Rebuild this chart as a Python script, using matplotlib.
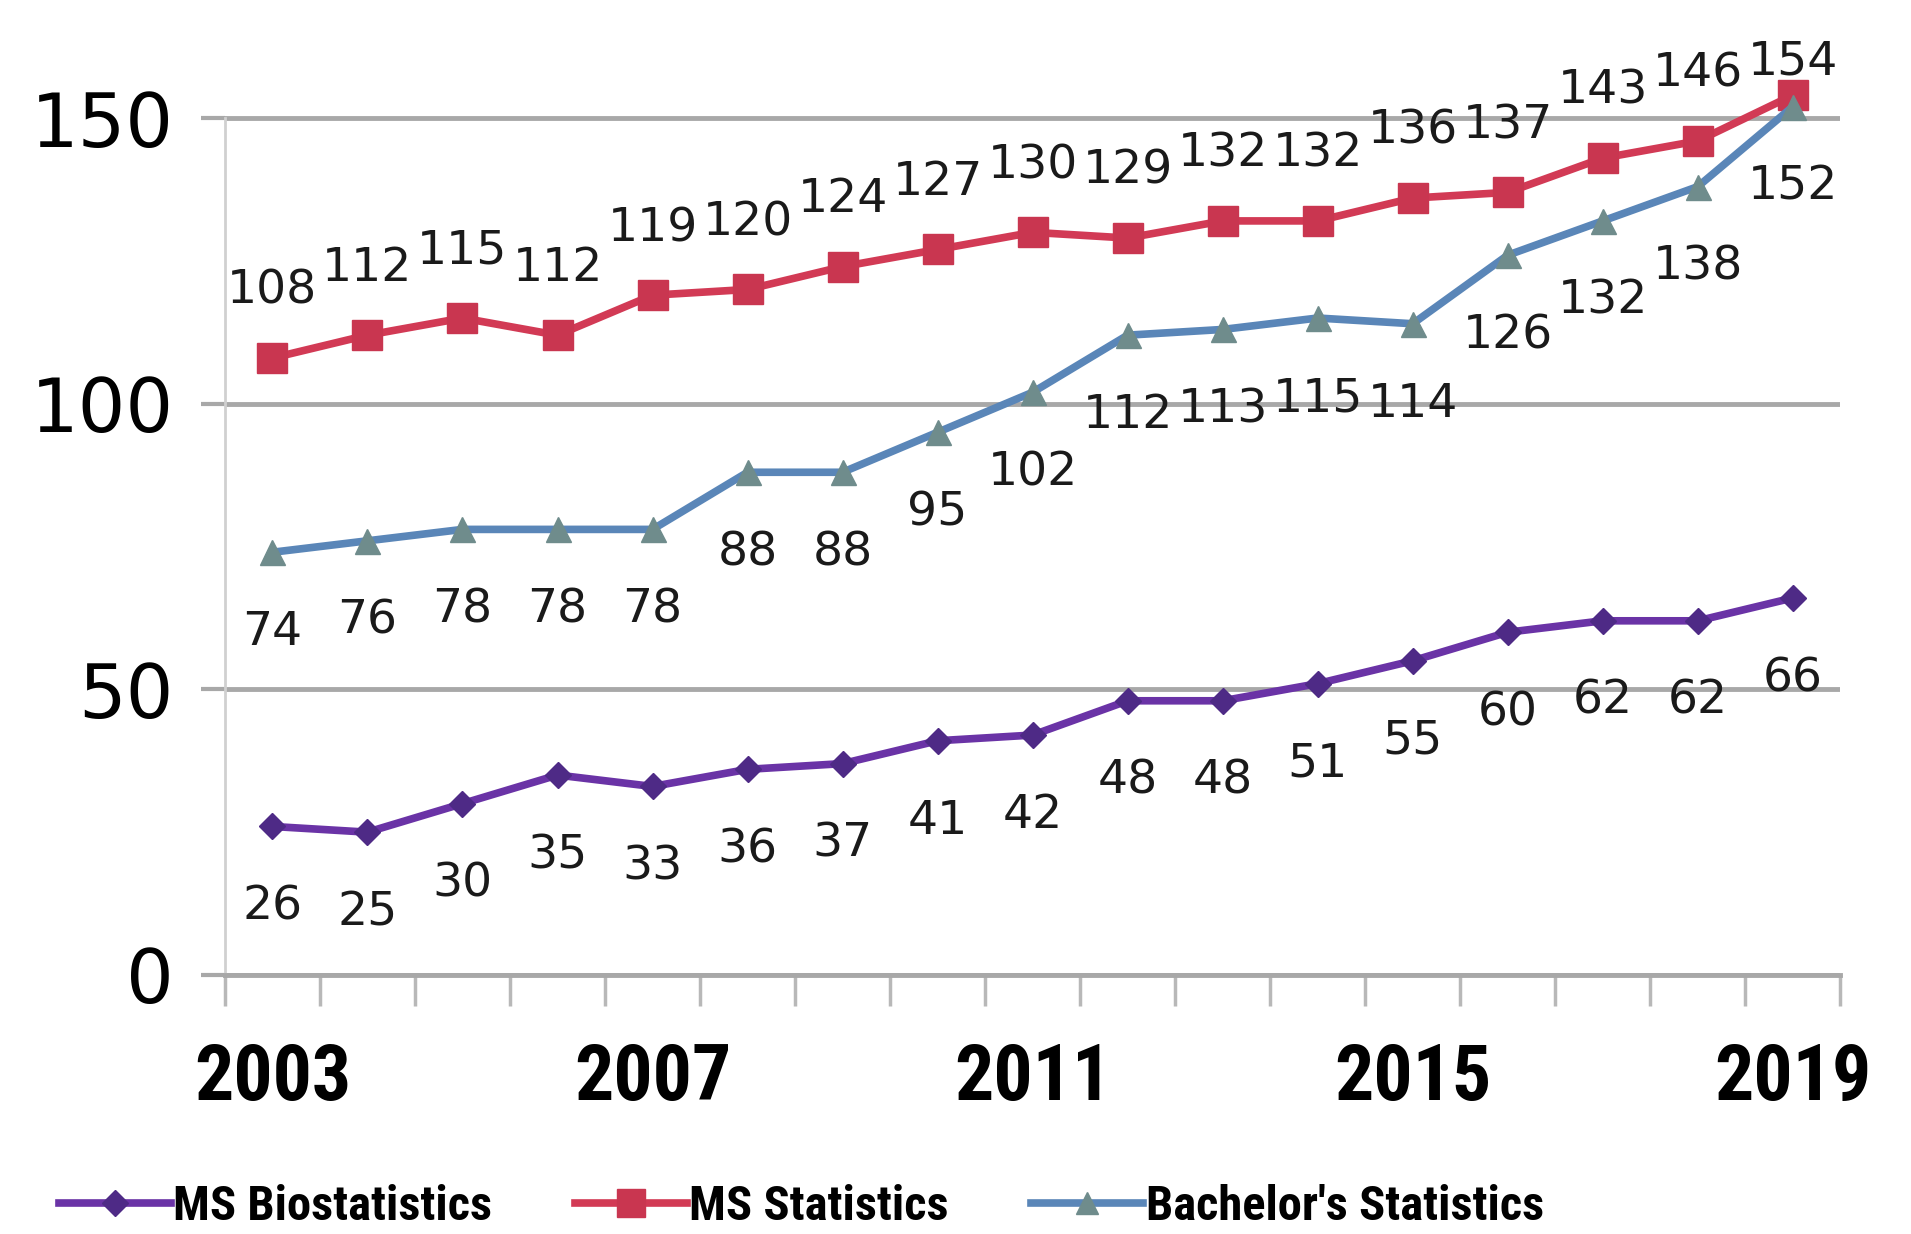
import matplotlib.pyplot as plt
import numpy as np
from matplotlib.lines import Line2D

# данные
years = list(range(2003, 2020))
ms_bio = [26, 25, 30, 35, 33, 36, 37, 41, 42, 48, 48, 51, 55, 60, 62, 62, 66]
ms_stat = [108, 112, 115, 112, 119, 120, 124, 127, 130, 129, 132, 132, 136, 137, 143, 146, 154]
bach_stat = [74, 76, 78, 78, 78, 88, 88, 95, 102, 112, 113, 115, 114, 126, 132, 138, 152]
year_labels = ["2003", "2007", "2011", "2015", "2019"]

c_bio = "#6a33a6"
c_stat = "#d23a55"
c_bach = "#5a86b8"
grid_c = "#a8a8a8"

narrow = ["Roboto Condensed", "DejaVu Sans"]

fig = plt.figure(figsize=(19.11, 12.34), dpi=100)
ax = fig.add_axes([0.1177, 0.2099, 0.8453, 0.7407])
x = np.arange(len(years))

ax.plot(x, ms_bio, color=c_bio, lw=5.5, marker="D", ms=13, mfc="#4e2a86", mec="#4e2a86")
ax.plot(x, ms_stat, color=c_stat, lw=5.5, marker="s", ms=22, mfc="#c93650", mec="#c93650")
ax.plot(x, bach_stat, color=c_bach, lw=5.5, marker="^", ms=18, mfc="#6f8c8c", mec="#6f8c8c")

# подписи значений
last = len(years) - 1
for i in range(len(years)):
    ax.annotate(str(ms_bio[i]), (x[i], ms_bio[i]), xytext=(0, -58), textcoords="offset points",
                ha="center", va="center", fontsize=34, color="#1a1a1a")
    up = 24 if i == last else 48
    ax.annotate(str(ms_stat[i]), (x[i], ms_stat[i]), xytext=(0, up), textcoords="offset points",
                ha="center", va="center", fontsize=34, color="#1a1a1a")
    ax.annotate(str(bach_stat[i]), (x[i], bach_stat[i]), xytext=(0, -58), textcoords="offset points",
                ha="center", va="center", fontsize=34, color="#1a1a1a")

ax.set_xlim(-0.5, len(years) - 0.5)
ax.set_ylim(0, 160)

ax.set_yticks([0, 50, 100, 150])
ax.set_yticklabels(["0", "50", "100", "150"], fontsize=54)
ax.grid(axis="y", color=grid_c, lw=3.5)
ax.tick_params(axis="y", length=17, width=3, color=grid_c, pad=20)

ax.set_xticks(x[::4])
ax.set_xticklabels(year_labels, fontsize=56, fontweight="bold", family=narrow)
ax.set_xticks(np.arange(-0.5, len(years), 1), minor=True)
ax.tick_params(axis="x", which="major", length=0, pad=48)
ax.tick_params(axis="x", which="minor", length=22, width=2.5, color="#b8b8b8", direction="out")

for s in ["top", "right"]:
    ax.spines[s].set_visible(False)
ax.spines["bottom"].set_color(grid_c)
ax.spines["bottom"].set_linewidth(3.5)
ax.spines["left"].set_color("#d0d0d0")
ax.spines["left"].set_linewidth(2)
ax.spines["left"].set_bounds(0, 150)

handles = [
    Line2D([0], [0], color=c_bio, lw=5.5, marker="D", ms=13, mfc="#4e2a86", mec="#4e2a86"),
    Line2D([0], [0], color=c_stat, lw=5.5, marker="s", ms=20, mfc="#c93650", mec="#c93650"),
    Line2D([0], [0], color=c_bach, lw=5.5, marker="^", ms=16, mfc="#6f8c8c", mec="#6f8c8c"),
]
fig.legend(handles, ["MS Biostatistics", "MS Statistics", "Bachelor's Statistics"],
           loc="center left", bbox_to_anchor=(0.008, 0.022), ncol=3, frameon=False,
           prop={"family": narrow, "size": 35, "weight": "bold"},
           handlelength=2.3, handletextpad=0.05, columnspacing=1.7)

plt.savefig("out.png", dpi=100)
